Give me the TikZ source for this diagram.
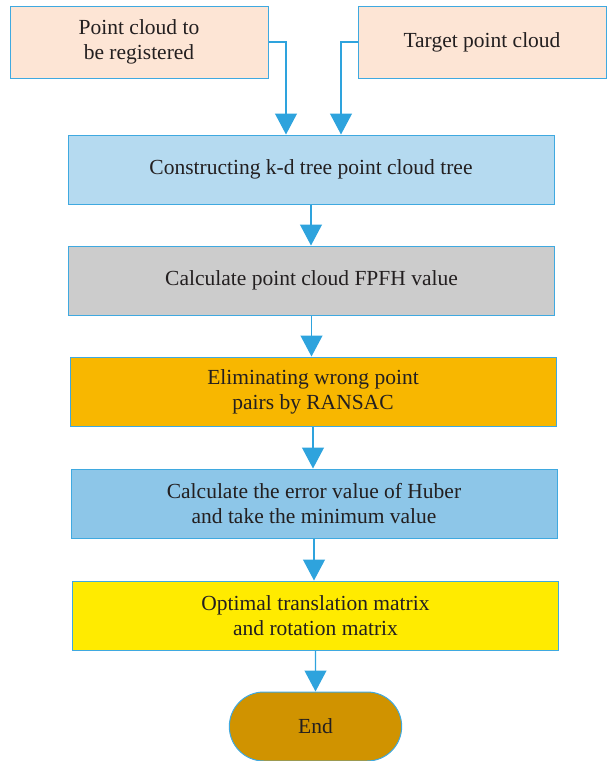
\documentclass[tikz,border=0pt]{standalone}
\usepackage{fontspec}
\setmainfont{Liberation Serif}
\usepackage{xcolor}
\usepackage{tikz}
\usetikzlibrary{arrows.meta}
\usetikzlibrary{shapes.misc}
\usetikzlibrary{positioning}
\definecolor{Linie}{HTML}{3FA9E0}
\definecolor{Spitze}{HTML}{2EA3DD}
\definecolor{Schrift}{HTML}{231F20}
\definecolor{Pfirsich}{HTML}{FDE5D5}
\definecolor{Hellblau}{HTML}{B5DAF0}
\definecolor{Grau}{HTML}{CCCCCC}
\definecolor{Orange}{HTML}{F8B700}
\definecolor{Mittelblau}{HTML}{8DC6E8}
\definecolor{Gelb}{HTML}{FFEB00}
\definecolor{Ocker}{HTML}{D09300}
\tikzset{
  Kasten/.style={draw=Linie, line width=1pt, fill=#1, align=center,
    minimum width=486pt, minimum height=69pt, inner sep=0pt}, % für Kästen
  Quelle/.style={Kasten=Pfirsich, minimum height=72pt},% für Eingänge
  Pfeil/.style={Spitze, line width=1.2pt, -{Triangle[width=22pt,length=21pt]}} % für Pfeile
}

\begin{document}
\begin{tikzpicture}[
font=\fontsize{21.5}{25}\selectfont, text=Schrift,
node distance=41pt
]
\useasboundingbox (0,0) rectangle (607pt,-761pt);

%Eingänge
\node[Quelle, minimum width=258pt] (Reg) at (139pt,-42pt) {Point cloud to\\be registered};
\node[Quelle, minimum width=248pt] (Ziel) at (482pt,-42pt) {Target point cloud};

%Schritte
\node[Kasten=Hellblau] (Baum) at (311pt,-169.5pt) {Constructing k-d tree point cloud tree};
\node[Kasten=Grau, below=of Baum, xshift=0.5pt] (FPFH) {Calculate point cloud FPFH value};
\node[Kasten=Orange, below=of FPFH, xshift=1.5pt] (RANSAC) {Eliminating wrong point\\pairs by RANSAC};
\node[Kasten=Mittelblau, below=42pt of RANSAC, xshift=1pt] (Huber) {Calculate the error value of Huber\\and take the minimum value};
\node[Kasten=Gelb, below=42pt of Huber, xshift=1.5pt] (Matrix) {Optimal translation matrix\\and rotation matrix};
\node[draw=Linie, line width=1pt, fill=Ocker, rounded rectangle,
  minimum width=179pt, minimum height=69pt, below=of Matrix] (Ende) {End};

%Pfeile
\draw[Pfeil] (Reg.east) -| ([xshift=-25pt]Baum.north);
\draw[Pfeil] (Ziel.west) -| ([xshift=30pt]Baum.north);
\draw[Pfeil] (Baum) -- (Baum |- FPFH.north);
\draw[Pfeil] (FPFH) -- (FPFH |- RANSAC.north);
\draw[Pfeil] (RANSAC) -- (RANSAC |- Huber.north);
\draw[Pfeil] (Huber) -- (Huber |- Matrix.north);
\draw[Pfeil] (Matrix) -- (Ende);

\end{tikzpicture}
\end{document}
